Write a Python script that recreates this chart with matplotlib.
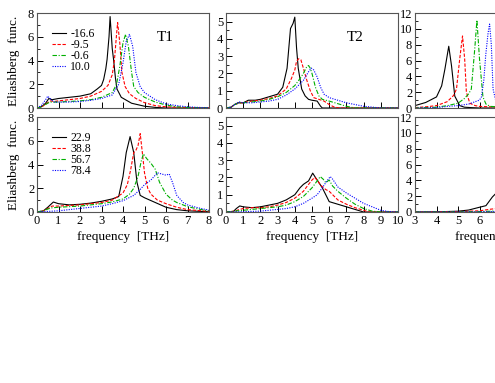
import matplotlib
matplotlib.use("Agg")
import matplotlib.pyplot as plt
from matplotlib.ticker import MultipleLocator

plt.rcParams['font.family'] = ['Liberation Serif', 'DejaVu Serif']
plt.rcParams['font.size'] = 9

# legend labels (strain values)
labels_top = ['-16.6', '-9.5', '-0.6', '10.0']
labels_bot = ['22.9', '38.8', '56.7', '78.4']

# ---- T1, top row ----
t1_top_x = [
    [0, 0.2, 0.4, 0.55, 0.7, 1.0, 1.5, 2.0, 2.5, 2.8, 3.0, 3.1, 3.2, 3.26, 3.35, 3.4, 3.5, 3.56, 3.65, 3.72, 3.92, 4.4, 5.0, 5.5, 6.0, 8.0],
    [0, 0.2, 0.4, 0.6, 0.8, 1.0, 1.5, 2.0, 2.5, 3.0, 3.3, 3.5, 3.6, 3.7, 3.75, 3.85, 3.95, 4.1, 4.3, 4.6, 5.0, 5.5, 6.0, 7.0, 8.0],
    [0, 0.2, 0.4, 0.6, 0.8, 1.0, 1.5, 2.0, 2.5, 3.0, 3.5, 3.7, 3.85, 4.0, 4.12, 4.25, 4.4, 4.5, 4.7, 5.0, 5.5, 6.0, 6.5, 7.0, 8.0],
    [0, 0.2, 0.4, 0.5, 0.6, 0.8, 1.0, 1.5, 2.0, 2.5, 3.0, 3.5, 3.8, 4.0, 4.15, 4.3, 4.45, 4.6, 4.8, 5.0, 5.5, 6.0, 6.5, 7.0, 7.5, 8.0],
]
t1_top_y = [
    [0, 0.1, 0.4, 0.8, 0.7, 0.8, 0.9, 1.0, 1.2, 1.6, 1.9, 2.4, 3.3, 4.1, 6.0, 7.7, 5.0, 4.1, 2.5, 1.6, 0.9, 0.4, 0.15, 0.05, 0, 0],
    [0, 0.1, 0.3, 0.6, 0.55, 0.6, 0.7, 0.8, 1.0, 1.4, 1.9, 2.8, 4.0, 6.2, 7.2, 5.5, 3.0, 1.8, 1.2, 0.8, 0.45, 0.2, 0.1, 0.03, 0],
    [0, 0.1, 0.3, 0.5, 0.5, 0.5, 0.55, 0.6, 0.7, 0.9, 1.3, 2.0, 3.5, 5.5, 6.2, 5.2, 3.0, 1.8, 1.3, 0.9, 0.5, 0.25, 0.1, 0.05, 0],
    [0, 0.2, 0.7, 1.0, 0.8, 0.5, 0.5, 0.5, 0.55, 0.65, 0.8, 1.1, 2.0, 3.8, 5.6, 6.2, 5.2, 3.0, 1.8, 1.3, 0.7, 0.35, 0.2, 0.1, 0.05, 0.02],
]

# ---- T1, bottom row ----
t1_bot_x = [
    [0, 0.3, 0.5, 0.76, 1.0, 1.5, 2.0, 2.5, 3.0, 3.5, 3.8, 4.0, 4.15, 4.33, 4.5, 4.65, 4.8, 5.0, 5.5, 6.0, 6.5, 7.0, 8.0],
    [0, 0.3, 0.5, 0.7, 1.0, 1.5, 2.0, 2.5, 3.0, 3.5, 4.0, 4.2, 4.35, 4.5, 4.6, 4.7, 4.8, 4.9, 5.0, 5.15, 5.3, 5.6, 6.0, 6.5, 7.0, 8.0],
    [0, 0.3, 0.5, 0.7, 1.0, 1.5, 2.0, 2.5, 3.0, 3.5, 4.0, 4.3, 4.5, 4.7, 4.85, 4.95, 5.1, 5.3, 5.5, 5.7, 6.0, 6.3, 6.5, 7.0, 7.5, 8.0],
    [0, 0.5, 1.0, 1.5, 2.0, 2.5, 3.0, 3.5, 4.0, 4.5, 4.8, 5.0, 5.3, 5.6, 5.8, 6.0, 6.15, 6.3, 6.5, 6.8, 7.0, 7.5, 8.0],
]
t1_bot_y = [
    [0, 0.1, 0.4, 0.84, 0.7, 0.6, 0.65, 0.75, 0.9, 1.1, 1.3, 3.0, 5.0, 6.35, 5.0, 2.5, 1.4, 1.2, 0.8, 0.4, 0.2, 0.1, 0.02],
    [0, 0.1, 0.3, 0.5, 0.5, 0.55, 0.6, 0.7, 0.8, 1.0, 1.6, 2.3, 3.5, 5.0, 5.2, 5.6, 6.6, 5.0, 3.3, 2.0, 1.5, 1.0, 0.7, 0.4, 0.2, 0.05],
    [0, 0.1, 0.25, 0.35, 0.4, 0.45, 0.5, 0.6, 0.7, 0.85, 1.1, 1.5, 2.0, 3.0, 4.3, 4.9, 4.5, 4.1, 3.6, 2.5, 1.5, 1.0, 0.8, 0.45, 0.25, 0.1],
    [0, 0.05, 0.1, 0.2, 0.3, 0.4, 0.5, 0.7, 0.95, 1.4, 1.9, 2.3, 2.7, 3.3, 3.2, 3.1, 3.2, 2.5, 1.4, 0.8, 0.6, 0.35, 0.15],
]

# ---- T2, top row ----
t2_top_x = [
    [0, 0.3, 0.5, 0.7, 1.0, 1.3, 1.7, 2.0, 2.5, 3.0, 3.3, 3.55, 3.75, 3.9, 4.0, 4.1, 4.2, 4.4, 4.6, 4.8, 5.0, 5.3, 5.5, 5.6, 10],
    [0, 0.3, 0.5, 0.8, 1.0, 1.5, 2.0, 2.5, 3.0, 3.5, 3.8, 4.0, 4.1, 4.22, 4.35, 4.5, 4.7, 4.9, 5.1, 5.4, 5.7, 6.0, 6.3, 6.6, 10],
    [0, 0.3, 0.5, 0.8, 1.0, 1.5, 2.0, 2.5, 3.0, 3.5, 4.0, 4.3, 4.5, 4.7, 4.8, 4.9, 5.0, 5.2, 5.4, 5.6, 6.0, 6.5, 7.0, 7.5, 10],
    [0, 0.3, 0.5, 0.8, 1.0, 1.5, 2.0, 2.5, 3.0, 3.5, 4.0, 4.5, 4.8, 4.96, 5.1, 5.3, 5.5, 5.7, 6.0, 6.5, 7.0, 7.5, 8.0, 8.5, 9.0, 10],
]
t2_top_y = [
    [0, 0.05, 0.2, 0.3, 0.3, 0.45, 0.45, 0.5, 0.65, 0.8, 1.2, 2.3, 4.6, 4.9, 5.26, 3.5, 2.3, 1.1, 0.7, 0.5, 0.45, 0.4, 0.1, 0, 0],
    [0, 0.05, 0.2, 0.3, 0.3, 0.4, 0.45, 0.55, 0.7, 1.1, 1.7, 2.2, 2.7, 2.85, 2.8, 2.3, 1.6, 1.0, 0.6, 0.5, 0.4, 0.2, 0.05, 0, 0],
    [0, 0.05, 0.2, 0.3, 0.3, 0.35, 0.4, 0.5, 0.65, 0.9, 1.3, 1.7, 2.0, 2.4, 2.46, 2.3, 2.0, 1.2, 0.7, 0.5, 0.4, 0.25, 0.1, 0, 0],
    [0, 0.05, 0.2, 0.35, 0.3, 0.3, 0.35, 0.4, 0.5, 0.75, 1.1, 1.6, 2.1, 2.31, 2.2, 1.8, 1.2, 0.8, 0.6, 0.45, 0.3, 0.2, 0.1, 0.05, 0, 0],
]

# ---- T2, bottom row ----
t2_bot_x = [
    [0, 0.4, 0.6, 0.8, 1.0, 1.5, 2.0, 2.5, 3.0, 3.5, 4.0, 4.3, 4.5, 4.8, 5.04, 5.2, 5.4, 5.6, 5.8, 6.0, 6.5, 7.0, 7.5, 8.0, 10],
    [0, 0.5, 0.8, 1.0, 1.5, 2.0, 2.5, 3.0, 3.5, 4.0, 4.5, 4.8, 5.0, 5.16, 5.3, 5.5, 5.8, 6.0, 6.3, 6.5, 7.0, 7.5, 8.0, 8.3, 10],
    [0, 0.5, 1.0, 1.5, 2.0, 2.5, 3.0, 3.5, 4.0, 4.5, 5.0, 5.3, 5.48, 5.65, 5.8, 6.0, 6.2, 6.5, 7.0, 7.5, 8.0, 8.5, 9.0, 10],
    [0, 1.0, 2.0, 2.5, 3.0, 3.5, 4.0, 4.5, 5.0, 5.3, 5.6, 5.8, 6.06, 6.2, 6.5, 7.0, 7.5, 8.0, 8.5, 9.0, 9.5, 10],
]
t2_bot_y = [
    [0, 0, 0.2, 0.35, 0.3, 0.25, 0.3, 0.4, 0.5, 0.7, 1.0, 1.4, 1.6, 1.8, 2.25, 2.0, 1.7, 1.4, 1.0, 0.6, 0.45, 0.3, 0.15, 0, 0],
    [0, 0.05, 0.15, 0.2, 0.25, 0.25, 0.3, 0.4, 0.55, 0.8, 1.2, 1.6, 1.85, 2.0, 1.85, 1.55, 1.3, 1.2, 0.9, 0.7, 0.45, 0.25, 0.1, 0, 0],
    [0, 0.05, 0.1, 0.15, 0.2, 0.25, 0.3, 0.4, 0.6, 0.9, 1.4, 1.8, 2.05, 1.9, 1.7, 1.85, 1.5, 1.2, 0.8, 0.45, 0.2, 0.05, 0, 0],
    [0, 0.02, 0.05, 0.1, 0.15, 0.2, 0.3, 0.5, 0.8, 1.0, 1.4, 1.7, 2.05, 1.9, 1.45, 1.1, 0.8, 0.5, 0.3, 0.1, 0.02, 0],
]

# ---- third column (cut off), top row ----
t3_top_x = [
    [3.0, 3.5, 4.0, 4.24, 4.39, 4.57, 4.7, 4.85, 5.08, 5.3, 5.6, 6.0, 8.0],
    [3.0, 3.5, 4.0, 4.5, 4.8, 4.93, 5.08, 5.21, 5.31, 5.39, 5.55, 5.8, 6.0, 8.0],
    [3.0, 4.0, 4.5, 5.0, 5.3, 5.5, 5.62, 5.78, 5.88, 6.0, 6.16, 6.3, 6.5, 8.0],
    [3.0, 4.0, 4.5, 5.0, 5.5, 5.8, 6.0, 6.09, 6.2, 6.29, 6.4, 6.47, 6.55, 6.63, 6.75, 7.0, 8.0],
]
t3_top_y = [
    [0.3, 0.7, 1.4, 2.8, 4.9, 7.8, 5.3, 1.5, 0.3, 0.1, 0.05, 0, 0],
    [0.05, 0.15, 0.3, 0.8, 1.6, 2.4, 6.2, 9.1, 6.2, 2.0, 0.6, 0.3, 0.2, 0],
    [0, 0.1, 0.3, 0.6, 1.2, 1.8, 2.4, 7.5, 11.1, 6.2, 1.4, 0.5, 0.2, 0],
    [0, 0.05, 0.2, 0.3, 0.5, 0.8, 1.0, 1.4, 3.5, 6.7, 9.5, 10.6, 8.0, 2.4, 1.0, 0.4, 0.1],
]

# ---- third column, bottom row ----
t3_bot_x = [
    [3.0, 4.0, 5.0, 5.5, 6.0, 6.3, 6.6, 7.0],
    [3.0, 5.0, 6.0, 6.5, 7.0],
    [3.0, 5.0, 6.0, 6.5, 7.0],
    [3.0, 5.0, 6.0, 6.5, 7.0],
]
t3_bot_y = [
    [0, 0.02, 0.1, 0.25, 0.6, 0.8, 1.9, 3.0],
    [0, 0.05, 0.15, 0.35, 0.5],
    [0, 0.02, 0.05, 0.1, 0.15],
    [0, 0.01, 0.02, 0.05, 0.08],
]

colors = ['black', 'red', '#00b000', 'blue']
styles = ['-', (0, (3, 1.5)), (0, (4, 1.5, 1, 1.5)), (0, (1, 1.2))]

fig = plt.figure(figsize=(4.95, 3.83), dpi=100)

W, H = 495.0, 383.0
lefts = [37, 226, 415]
tops = [13, 117]
aw, ah = 172, 95

panels = [
    [(t1_top_x, t1_top_y), (t2_top_x, t2_top_y), (t3_top_x, t3_top_y)],
    [(t1_bot_x, t1_bot_y), (t2_bot_x, t2_bot_y), (t3_bot_x, t3_bot_y)],
]
xlims = [(0, 8), (0, 10), (3, 11)]
ylims = [(0, 8), (0, 5.5), (0, 12)]
ymajor = [2, 1, 2]
yminor = [1, 0.5, 1]

for r in range(2):
    for c in range(3):
        ax = fig.add_axes([lefts[c] / W, 1 - (tops[r] + ah) / H, aw / W, ah / H])
        xs, ys = panels[r][c]
        for k in range(4):
            lab = (labels_top if r == 0 else labels_bot)[k]
            ax.plot(xs[k], ys[k], color=colors[k], linestyle=styles[k], lw=0.8, label=lab)
        ax.set_xlim(*xlims[c])
        ax.set_ylim(*ylims[c])
        ax.xaxis.set_major_locator(MultipleLocator(1))
        ax.yaxis.set_major_locator(MultipleLocator(ymajor[c]))
        ax.yaxis.set_minor_locator(MultipleLocator(yminor[c]))
        ax.tick_params(direction='in', top=False, right=False, length=4, width=0.7,
                       labelsize=9, pad=2, colors='black')
        ax.tick_params(which='minor', direction='in', length=2, width=0.6)
        for s in ax.spines.values():
            s.set_color('#555555')
            s.set_linewidth(0.8)
        if r == 0:
            ax.tick_params(labelbottom=False)
        else:
            ax.set_xlabel('frequency  [THz]', fontsize=9.5, labelpad=3)
        if c == 0:
            ax.set_ylabel('Eliashberg  func.', fontsize=9.5)
            ax.yaxis.set_label_coords(-0.1, 0.5)
            ax.legend(loc='upper left', bbox_to_anchor=(0.087, 0.84), frameon=False,
                      fontsize=8.5, handlelength=1.15, handletextpad=0.4,
                      labelspacing=-0.1, borderpad=0, borderaxespad=0)
        if r == 0 and c == 0:
            ax.text(0.744, 0.745, 'T1', transform=ax.transAxes, fontsize=11,
                    ha='center', va='center')
        if r == 0 and c == 1:
            ax.text(0.75, 0.745, 'T2', transform=ax.transAxes, fontsize=11,
                    ha='center', va='center')

plt.savefig('out.png', dpi=100)
